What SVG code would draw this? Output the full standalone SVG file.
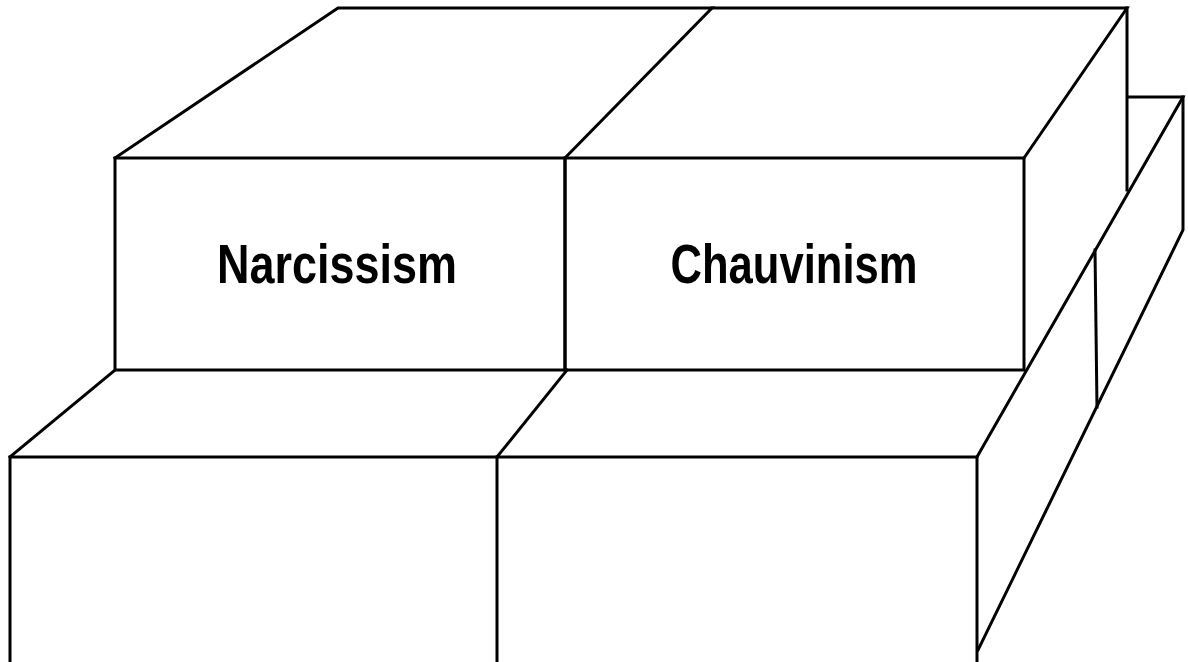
<svg xmlns="http://www.w3.org/2000/svg" width="1188" height="662" viewBox="0 0 1188 662">
<style>
.e{fill:none;stroke:#000;stroke-width:3;stroke-linejoin:miter;stroke-linecap:square}
.t{font-family:"Liberation Sans Narrow","Liberation Sans",Arial,sans-serif;font-size:56px;font-weight:bold;fill:#000}
</style>
<rect width="1188" height="662" fill="#fff"/>
<g id="lower-layer">
<path class="e" d="M10,662 V457 H977 V662"/>
<path class="e" d="M497,457 V662"/>
<path class="e" d="M10,457 L115,370"/>
<path class="e" d="M497,457 L567,370"/>
<path class="e" d="M977,457 L1183,97 H1128"/>
<path class="e" d="M1183,97 V230 L978,650"/>
<path class="e" d="M1095,250 L1097,407"/>
</g>
<g id="narcissism">
<path class="e" d="M115,370 V158 H565 V370 Z"/>
<path class="e" d="M115,158 L338,8 H712 L565,158"/>
<text class="t" x="337" y="283" text-anchor="middle" textLength="240" lengthAdjust="spacingAndGlyphs">Narcissism</text>
</g>
<g id="chauvinism">
<path class="e" d="M565,370 V158 H1024 V370 Z"/>
<path class="e" d="M712,8 H1127 L1024,158"/>
<path class="e" d="M1127,8 V190"/>
<text class="t" x="794" y="283" text-anchor="middle" textLength="247" lengthAdjust="spacingAndGlyphs">Chauvinism</text>
</g>
<g id="connectors"></g>
</svg>
